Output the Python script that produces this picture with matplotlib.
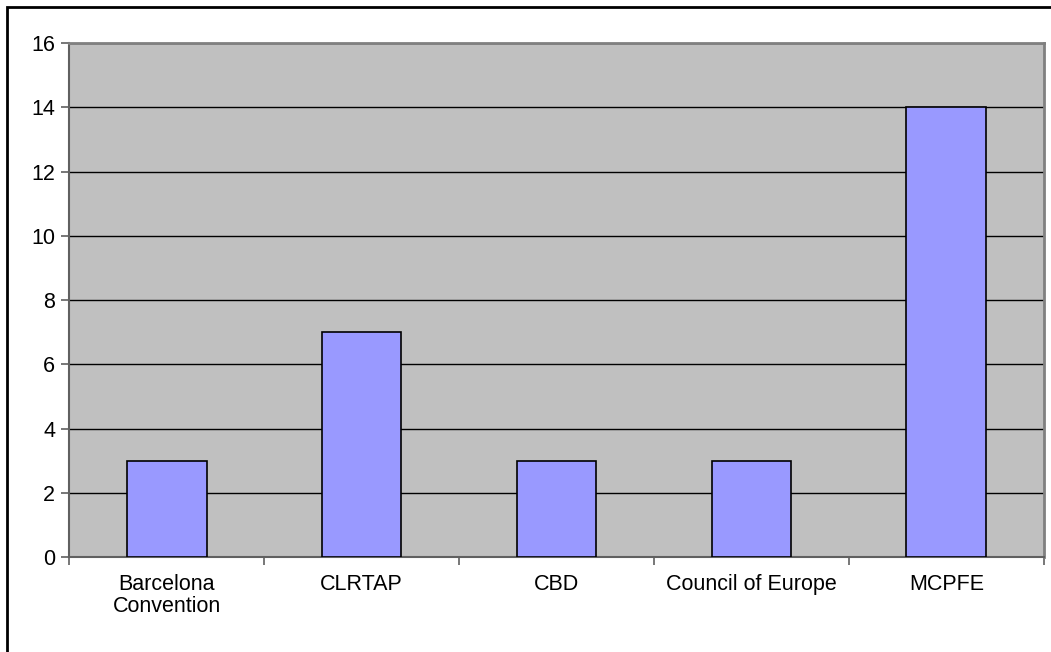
import numpy as np
import matplotlib.pyplot as plt
from matplotlib.patches import Rectangle

categories = ["Barcelona\nConvention", "CLRTAP", "CBD", "Council of Europe", "MCPFE"]
values = [3, 7, 3, 3, 14]

plt.rcParams["font.family"] = ["Liberation Sans", "DejaVu Sans"]
fontsize = 15.5

fig = plt.figure(figsize=(10.51, 6.52), dpi=100)
ax = fig.add_axes([0.0657, 0.1457, 0.9276, 0.7883])

x = np.arange(len(categories))
ax.set_facecolor("#c0c0c0")
ax.bar(x, values, width=0.41, color="#9999ff", edgecolor="black", linewidth=1.2, zorder=3)

ax.set_xlim(-0.5, len(categories) - 0.5)
ax.set_ylim(0, 16)
ax.set_yticks(np.arange(0, 17, 2))
ax.yaxis.grid(True, color="black", linewidth=1.0, zorder=1)
ax.set_axisbelow(True)

# category labels centred, tick marks between categories
ax.set_xticks(x)
ax.set_xticklabels(categories, fontsize=fontsize, linespacing=1.1)
ax.tick_params(axis="x", length=0, pad=12)
ax.set_xticks(np.arange(-0.5, len(categories)), minor=True)
ax.tick_params(axis="x", which="minor", length=6, color="#606060", width=1.2)
ax.tick_params(axis="y", length=6, color="#606060", width=1.2, labelsize=fontsize, pad=4)

for side in ["left", "bottom"]:
    ax.spines[side].set_color("#606060")
    ax.spines[side].set_linewidth(1.5)
for side in ["top", "right"]:
    ax.spines[side].set_color("#808080")
    ax.spines[side].set_linewidth(2)

# outer chart border (right and bottom edges fall outside the picture)
fig.patches.append(Rectangle((0.0067, -0.05), 1.1, 1.039, transform=fig.transFigure,
                             fill=False, edgecolor="black", linewidth=2))

fig.savefig("out.png", dpi=100)
